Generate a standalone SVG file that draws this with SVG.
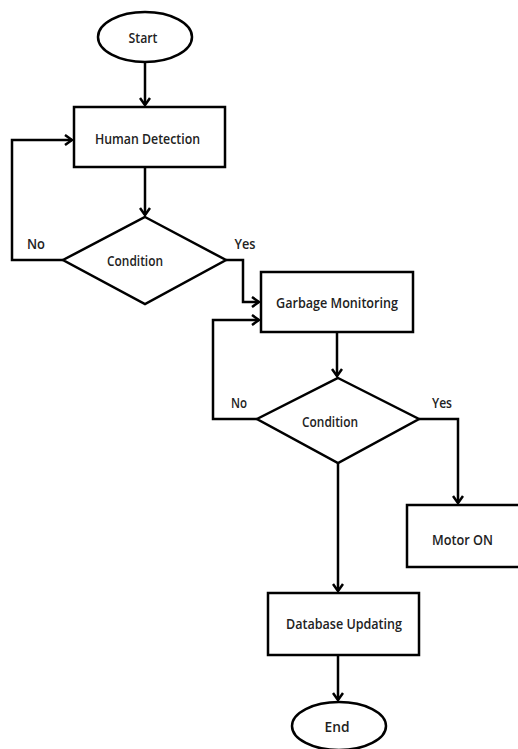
<svg xmlns="http://www.w3.org/2000/svg" width="518" height="749" viewBox="0 0 518 749">
<defs>
<style>
.s{fill:#fff;stroke:#000;stroke-width:2.5}
.c{fill:none;stroke:#000;stroke-width:2.5;marker-end:url(#a)}
text{font-family:"Open Sans","Liberation Sans",sans-serif;font-size:15px;fill:#222;font-weight:600}
</style>
<marker id="a" markerWidth="12" markerHeight="12" refX="9" refY="6" orient="auto" markerUnits="userSpaceOnUse">
<path d="M2,1 L9,6 L2,11" fill="none" stroke="#000" stroke-width="2.5"/>
</marker>
</defs>
<rect width="518" height="749" fill="#fff"/>
<g id="connectors">
<path class="c" d="M145,63 V105"/>
<path class="c" d="M145,167 V215"/>
<path class="c" d="M63,260 H12 V140 H72"/>
<path class="c" d="M226,260 H243 V302 H259"/>
<path class="c" d="M337,332 V376"/>
<path class="c" d="M257,419 H213 V320 H259"/>
<path class="c" d="M419,419 H458 V503"/>
<path class="c" d="M338,463 V591"/>
<path class="c" d="M338,655 V700"/>
</g>
<g id="start"><ellipse class="s" cx="145" cy="37" rx="47" ry="25"/><text x="143" y="43" text-anchor="middle" textLength="29" lengthAdjust="spacingAndGlyphs">Start</text></g>
<g id="human"><rect class="s" x="74" y="107" width="151" height="60"/><text x="147.5" y="144" text-anchor="middle" textLength="105" lengthAdjust="spacingAndGlyphs">Human Detection</text></g>
<g id="cond1"><polygon class="s" points="145,217 226,260 145,304 63,260"/><text x="135" y="266" text-anchor="middle" textLength="56" lengthAdjust="spacingAndGlyphs">Condition</text>
<text x="36" y="249" text-anchor="middle" textLength="18" lengthAdjust="spacingAndGlyphs">No</text>
<text x="245" y="249" text-anchor="middle" textLength="21" lengthAdjust="spacingAndGlyphs">Yes</text></g>
<g id="garbage"><rect class="s" x="261" y="272" width="152" height="60"/><text x="337" y="308" text-anchor="middle" textLength="122" lengthAdjust="spacingAndGlyphs">Garbage Monitoring</text></g>
<g id="cond2"><polygon class="s" points="338,378 419,419 338,463 257,419"/><text x="330" y="427" text-anchor="middle" textLength="56" lengthAdjust="spacingAndGlyphs">Condition</text>
<text x="239" y="408" text-anchor="middle" textLength="16" lengthAdjust="spacingAndGlyphs">No</text>
<text x="442" y="408" text-anchor="middle" textLength="20" lengthAdjust="spacingAndGlyphs">Yes</text></g>
<g id="motor"><rect class="s" x="407" y="505" width="120" height="62"/><text x="462.5" y="545" text-anchor="middle" textLength="61" lengthAdjust="spacingAndGlyphs">Motor ON</text></g>
<g id="database"><rect class="s" x="268" y="593" width="151" height="62"/><text x="344" y="629" text-anchor="middle" textLength="116" lengthAdjust="spacingAndGlyphs">Database Updating</text></g>
<g id="end"><ellipse class="s" cx="339" cy="726" rx="47" ry="24"/><text x="337" y="732" text-anchor="middle" textLength="25" lengthAdjust="spacingAndGlyphs">End</text></g>
</svg>
